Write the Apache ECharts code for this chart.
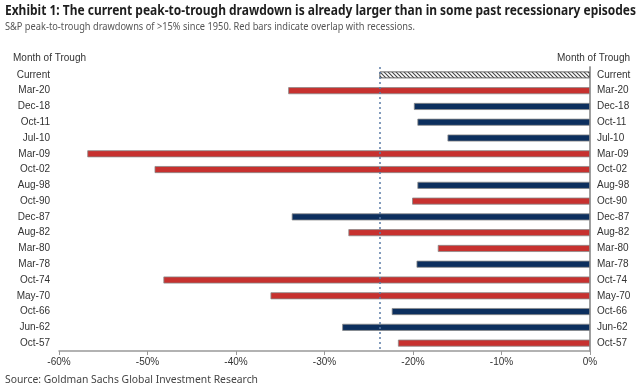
<!DOCTYPE html>
<html>
<head>
<meta charset="utf-8">
<script src="https://cdn.jsdelivr.net/npm/echarts@6/dist/echarts.min.js"></script>
<style>
html,body{margin:0;padding:0;background:#fff;}
#c{width:641px;height:392px;}
</style>
</head>
<body>
<div id="c"></div>
<script>
var categories = ['Current','Mar-20','Dec-18','Oct-11','Jul-10','Mar-09','Oct-02','Aug-98','Oct-90','Dec-87','Aug-82','Mar-80','Mar-78','Oct-74','May-70','Oct-66','Jun-62','Oct-57'];
var drawdowns = [-23.8,-34.1,-19.9,-19.5,-16.1,-56.8,-49.2,-19.5,-20.1,-33.7,-27.3,-17.2,-19.6,-48.2,-36.1,-22.4,-28.0,-21.7];
var recession = [null,true,false,false,false,true,true,false,true,false,true,true,false,true,true,false,false,true];
var currentLevel = -23.8;
var xTicks = [-60,-50,-40,-30,-20,-10,0];
var titleText = 'Exhibit 1: The current peak-to-trough drawdown is already larger than in some past recessionary episodes';
var subtitleText = 'S&P peak-to-trough drawdowns of >15% since 1950. Red bars indicate overlap with recessions.';
var sourceText = 'Source: Goldman Sachs Global Investment Research';

var RED = '#c7312f', NAVY = '#0c2f5e';

var mc = document.createElement('canvas').getContext('2d');
function fitScale(text, font, target){
  mc.font = font;
  return target / mc.measureText(text).width;
}
var TITLE_FONT = 'bold 14px "Noto Sans",sans-serif';
var SUB_FONT = '11.5px "Noto Sans",sans-serif';
var SRC_FONT = '11.5px "Noto Sans",sans-serif';

var pc = document.createElement('canvas');
pc.width = 4; pc.height = 4;
var g = pc.getContext('2d');
g.fillStyle = '#fff'; g.fillRect(0,0,4,4);
g.strokeStyle = '#444'; g.lineWidth = 1.1;
g.beginPath(); g.moveTo(-1,-1); g.lineTo(5,5); g.stroke();
g.beginPath(); g.moveTo(-1,3); g.lineTo(1,5); g.stroke();
g.beginPath(); g.moveTo(3,-1); g.lineTo(5,1); g.stroke();

var data = drawdowns.map(function(v,i){
  if (recession[i] === null) {
    return {value:v, itemStyle:{color:{image:pc, repeat:'repeat'}, borderColor:'#666', borderWidth:1}};
  }
  return {value:v, itemStyle:{color: recession[i] ? RED : NAVY}};
});

var chart = echarts.init(document.getElementById('c'), null, {renderer:'canvas'});
chart.setOption({
  animation:false,
  backgroundColor:'#fff',
  graphic:[
    {type:'text', x:5, y:4, scaleX:fitScale(titleText, TITLE_FONT, 631), style:{text:titleText, font:TITLE_FONT, fill:'#1e1e1e'}},
    {type:'text', x:5, y:21, scaleX:fitScale(subtitleText, SUB_FONT, 410), style:{text:subtitleText, font:SUB_FONT, fill:'#555'}},
    {type:'text', x:5, y:374, scaleX:fitScale(sourceText, SRC_FONT, 253), style:{text:sourceText, font:SRC_FONT, fill:'#444'}},
    {type:'text', left:13, top:53, style:{text:'Month of Trough', font:'10px "Liberation Sans",Arial,sans-serif', fill:'#333'}},
    {type:'text', right:11, top:53, style:{text:'Month of Trough', font:'10px "Liberation Sans",Arial,sans-serif', fill:'#333'}}
  ],
  grid:{left:59, right:51, top:67, bottom:41},
  xAxis:{
    type:'value', min:xTicks[0], max:xTicks[xTicks.length-1], interval:10,
    axisLine:{show:true, lineStyle:{color:'#999', width:1.5}},
    axisTick:{show:true, length:4, lineStyle:{color:'#999'}},
    splitLine:{show:false},
    axisLabel:{formatter:'{value}%', fontSize:10, color:'#333', margin:6, fontFamily:'"Liberation Sans",Arial,sans-serif'}
  },
  yAxis:[
    {type:'category', data:categories, inverse:true, position:'left',
     axisLine:{show:true, lineStyle:{color:'#999', width:1.5}}, axisTick:{show:false},
     axisLabel:{fontSize:10, color:'#333', margin:9, fontFamily:'"Liberation Sans",Arial,sans-serif'}},
    {type:'category', data:categories, inverse:true, position:'right',
     axisLine:{show:true, lineStyle:{color:'#999', width:1.5}}, axisTick:{show:false},
     axisLabel:{fontSize:10, color:'#333', margin:7, fontFamily:'"Liberation Sans",Arial,sans-serif'}}
  ],
  series:[{
    type:'bar', yAxisIndex:0, data:data, barWidth:7,
    itemStyle:{borderColor:'#8a8a8a', borderWidth:0.8},
    markLine:{
      silent:true, symbol:'none', label:{show:false},
      lineStyle:{color:'#5b7ca6', type:[2,3], width:1.5},
      data:[{xAxis:currentLevel}]
    },
    z:3
  }]
});
</script>
</body>
</html>
